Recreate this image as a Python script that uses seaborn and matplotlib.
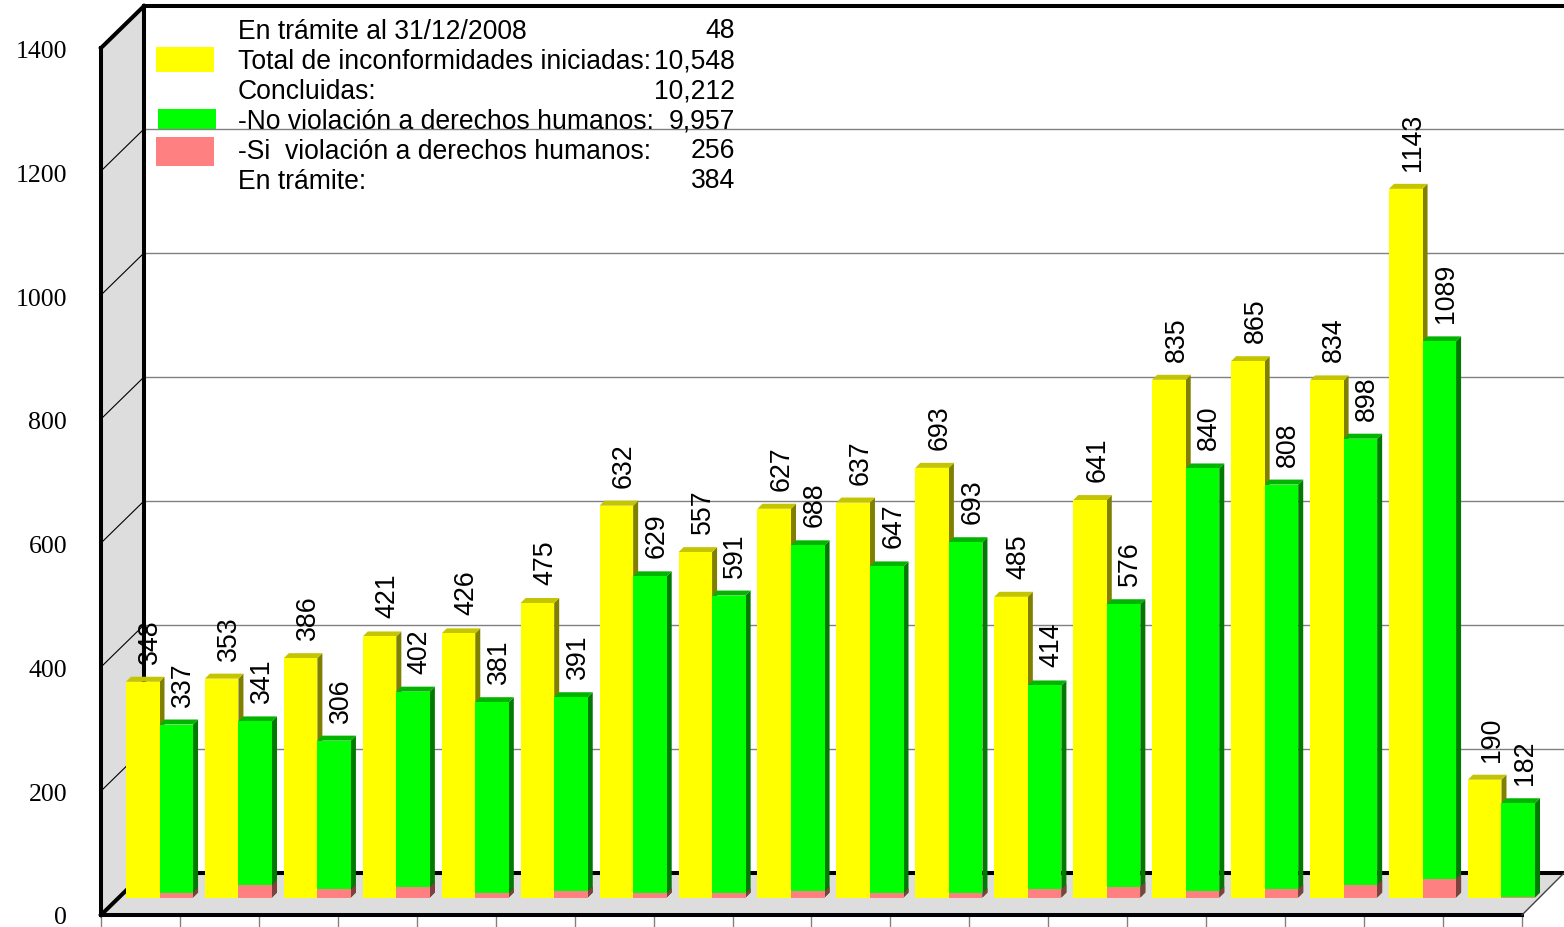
import pandas as pd
import seaborn as sns
import matplotlib.pyplot as plt
from matplotlib.patches import Polygon, Rectangle

# values
periods = ['p%02d' % i for i in range(1, 19)]
total_labels = [348, 353, 386, 421, 426, 475, 632, 557, 627, 637, 693, 485, 641, 835, 865, 834, 1143, 190]
concl_labels = [337, 341, 306, 402, 381, 391, 629, 591, 688, 647, 693, 414, 576, 840, 808, 898, 1089, 182]
total_heights = [348, 353, 386, 421, 426, 475, 632, 557, 627, 637, 693, 485, 641, 835, 865, 834, 1143, 190]
no_viol_heights = [279, 284, 253, 332, 315, 323, 518, 487, 568, 534, 573, 342, 473, 692, 666, 740, 897, 152]
si_viol_heights = [8, 20, 13, 17, 7, 10, 7, 7, 10, 7, 7, 13, 17, 10, 13, 20, 30, 1]

axis_ticks = [0, 200, 400, 600, 800, 1000, 1200, 1400]

legend_rows = ['En trámite al 31/12/2008', 'Total de inconformidades iniciadas:', 'Concluidas:',
               '-No violación a derechos humanos:', '-Si  violación a derechos humanos:', 'En trámite:']
legend_values = ['48', '10,548', '10,212', '9,957', '256', '384']

W, H = 1564, 927
PX_PER_UNIT = 0.62
CAT_STEP = 78.94
WALL = '#DDDDDD'

fig = plt.figure(figsize=(W / 100, H / 100), dpi=100)

# frame axes in picture pixels: walls, floor, grid, legend
bg = fig.add_axes([0, 0, 1, 1])
bg.set_xlim(0, W)
bg.set_ylim(H, 0)
bg.axis('off')

bg.add_patch(Polygon([(101, 48), (144, 6), (144, 873), (101, 915)], fc=WALL, ec='none', zorder=1))
bg.add_patch(Polygon([(101, 915), (144, 873), (1564, 873), (1522, 915)], fc=WALL, ec='none', zorder=1))

for v in axis_ticks[1:]:
    off = v * PX_PER_UNIT
    if v < 1400:
        bg.plot([144, 1564], [873 - off, 873 - off], color='#808080', lw=1, zorder=2)
    bg.plot([101, 144], [915 - off, 873 - off], color='black', lw=0.8, zorder=2)

for v in axis_ticks:
    bg.text(67, 918.5 - v * 0.619, str(v), ha='right', va='center', fontsize=18.6,
            family='Liberation Serif', color='black')

thick = dict(color='black', lw=2.9, solid_capstyle='projecting', zorder=3)
bg.plot([144, 1564], [6, 6], **thick)
bg.plot([144, 144], [6, 873], **thick)
bg.plot([101, 101], [48, 915], **thick)
bg.plot([101, 144], [48, 6], **thick)
bg.plot([144, 1564], [873, 873], **thick)
bg.plot([101, 144], [915, 873], **thick)
bg.plot([101, 1522], [915, 915], **thick)
bg.plot([1522, 1564], [915, 873], color='#404040', lw=1, zorder=3)

for i in range(19):
    bg.plot([101 + CAT_STEP * i] * 2, [915, 927], color='#808080', lw=1, zorder=2)

# legend block
bg.add_patch(Rectangle((156, 47), 58, 25, fc='#FFFF00', ec='none', zorder=2))
bg.add_patch(Rectangle((158, 109), 58, 21, fc='#00FF00', ec='none', zorder=1.5))
bg.add_patch(Rectangle((156, 137), 58, 29, fc='#FF8080', ec='none', zorder=2))
for i, (row, val) in enumerate(zip(legend_rows, legend_values)):
    y = 32 + 30 * i
    bg.text(238, y, row, ha='left', va='center', fontsize=19.1, family='Liberation Sans', zorder=5)
    bg.text(735, y - 1, val, ha='right', va='center', fontsize=19.1, family='Liberation Sans', zorder=5)

# bars axes on top, value 0 sits on the bar baseline
ax = fig.add_axes([0, 0, 1, 1])
ax.patch.set_alpha(0)

df = pd.DataFrame({
    'periodo': periods * 2,
    'serie': ['total'] * len(periods) + ['no'] * len(periods),
    'valor': total_heights + no_viol_heights,
})
order = ['total', 'no']
sns.barplot(data=df, x='periodo', y='valor', hue='serie', hue_order=order, order=periods,
            palette={'total': '#FFFF00', 'no': '#00FF00'}, width=0.85, gap=0, dodge=True,
            saturation=1, legend=False, ax=ax, errorbar=None, zorder=3)
main_bars = [list(c) for c in ax.containers]

pink_df = pd.DataFrame({'periodo': periods, 'serie': ['no'] * len(periods), 'valor': si_viol_heights})
sns.barplot(data=pink_df, x='periodo', y='valor', hue='serie', hue_order=order, order=periods,
            palette={'total': '#FF8080', 'no': '#FF8080'}, width=0.85, gap=0, dodge=True,
            saturation=1, legend=False, ax=ax, errorbar=None, zorder=4)
pink_bars = [b for c in ax.containers[2:] for b in c]

x0 = 159.5
ax.set_xlim(-x0 / CAT_STEP, (W - x0) / CAT_STEP)
ax.set_ylim((897.5 - H) / PX_PER_UNIT, 897.5 / PX_PER_UNIT)
ax.axis('off')

dx = 5 / CAT_STEP
dy = 5 / PX_PER_UNIT


def add_depth(bar, top_color, side_color, z):
    x, w, h = bar.get_x(), bar.get_width(), bar.get_height()
    ax.add_patch(Polygon([(x + w, 0), (x + w + dx, dy), (x + w + dx, h + dy), (x + w, h)],
                         fc=side_color, ec='none', zorder=z))
    ax.add_patch(Polygon([(x, h), (x + dx, h + dy), (x + w + dx, h + dy), (x + w, h)],
                         fc=top_color, ec='none', zorder=z))


for bar in main_bars[0]:
    add_depth(bar, '#C4C400', '#808000', 2)
for bar in main_bars[1]:
    add_depth(bar, '#00B400', '#007A00', 2.5)
for bar in pink_bars:
    if bar.get_height() > 0:
        x, w, h = bar.get_x(), bar.get_width(), bar.get_height()
        ax.add_patch(Polygon([(x + w, 0), (x + w + dx, dy), (x + w + dx, h + dy), (x + w, h)],
                             fc='#804040', ec='none', zorder=2.7))

# rotated value labels above each bar
label_gap = 18 / PX_PER_UNIT
for labels, bars, shift in [(total_labels, main_bars[0], 0.5), (concl_labels, main_bars[1], 0.3)]:
    for lab, bar in zip(labels, bars):
        ax.text(bar.get_x() + bar.get_width() / 2 + dx + shift * dx, bar.get_height() + label_gap, str(lab),
                rotation=90, ha='center', va='bottom', fontsize=19.3,
                family='Liberation Sans', zorder=6)

fig.savefig('out.png', dpi=100)
